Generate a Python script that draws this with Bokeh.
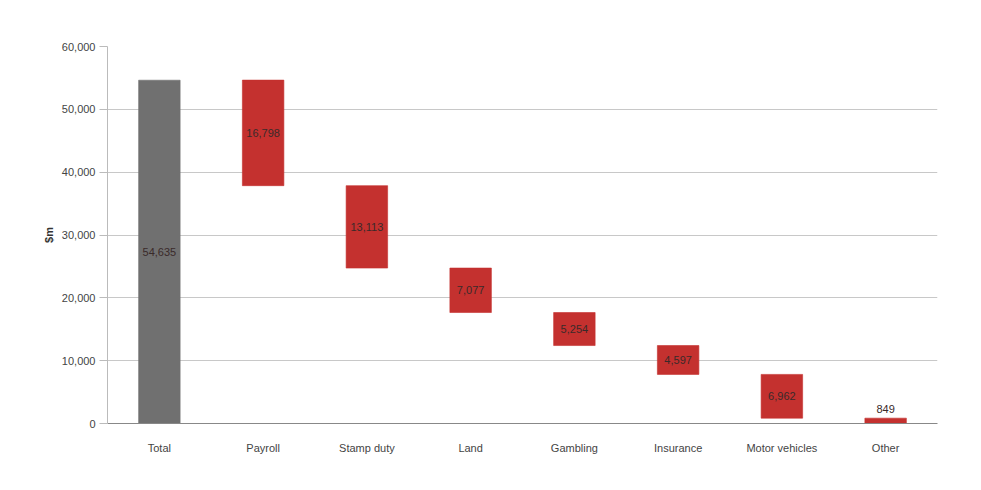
from bokeh.plotting import figure
from bokeh.models import ColumnDataSource, FactorRange, NumeralTickFormatter, FixedTicker
from bokeh.embed import file_html
from bokeh.resources import INLINE
from bokeh.core.properties import value

categories = ["Total", "Payroll", "Stamp duty", "Land", "Gambling", "Insurance", "Motor vehicles", "Other"]
total_value = 54635
components = [16798, 13113, 7077, 5254, 4597, 6962, 849]
labels = ["54,635", "16,798", "13,113", "7,077", "5,254", "4,597", "6,962", "849"]
y_ticks = [0, 10000, 20000, 30000, 40000, 50000, 60000]

# waterfall geometry from the data
bottoms = [0]
tops = [total_value]
running = sum(components)
for c in components:
    tops.append(running)
    bottoms.append(running - c)
    running -= c

colors = ["#707070"] + ["#c4312f"] * len(components)
mids = [(t + b) / 2 for t, b in zip(tops, bottoms)]
label_y = list(mids)
label_y[-1] = tops[-1] + 1500

src = ColumnDataSource(dict(x=categories, top=tops, bottom=bottoms, color=colors,
                            mid=label_y, label=labels))

p = figure(x_range=FactorRange(*categories), y_range=(0, 60000),
           width=981, height=490, output_backend="svg", toolbar_location=None,
           min_border_left=107, min_border_right=44, min_border_top=46, min_border_bottom=67,
           background_fill_color="white", border_fill_color="white", outline_line_color=None)

p.vbar(x="x", top="top", bottom="bottom", width=0.4, fill_color="color", line_color="color",
       line_alpha=0.6, source=src)
p.text(x="x", y="mid", text="label", source=src, text_align="center", text_baseline="middle",
       text_font=value("Liberation Sans"), text_font_size="11px", text_color="#3a2a2a")

p.yaxis.ticker = FixedTicker(ticks=y_ticks)
p.yaxis.formatter = NumeralTickFormatter(format="0,0")
p.yaxis.axis_label = "$m"
p.yaxis.axis_label_text_font = "Liberation Sans"
p.yaxis.axis_label_text_font_size = "11px"
p.yaxis.axis_label_text_font_style = "bold"
p.yaxis.axis_label_text_color = "#333333"
p.yaxis.axis_label_standoff = 4
p.yaxis.major_label_text_font = "Liberation Sans"
p.yaxis.major_label_text_font_size = "11px"
p.yaxis.major_label_text_color = "#444444"
p.yaxis.major_tick_out = 8
p.yaxis.major_tick_in = 0
p.yaxis.minor_tick_out = 0
p.yaxis.minor_tick_in = 0
p.yaxis.axis_line_color = "#bbbbbb"
p.yaxis.major_tick_line_color = "#bbbbbb"
p.yaxis.major_label_standoff = 4

p.xaxis.axis_line_color = "#888888"
p.xaxis.major_tick_line_color = None
p.xaxis.major_label_standoff = 12
p.xaxis.major_label_text_font = "Liberation Sans"
p.xaxis.major_label_text_font_size = "11px"
p.xaxis.major_label_text_color = "#444444"

p.xgrid.grid_line_color = None
p.ygrid.grid_line_color = "#c8c8c8"
p.ygrid.grid_line_width = 1

open("out.html", "w").write(file_html(p, INLINE))
